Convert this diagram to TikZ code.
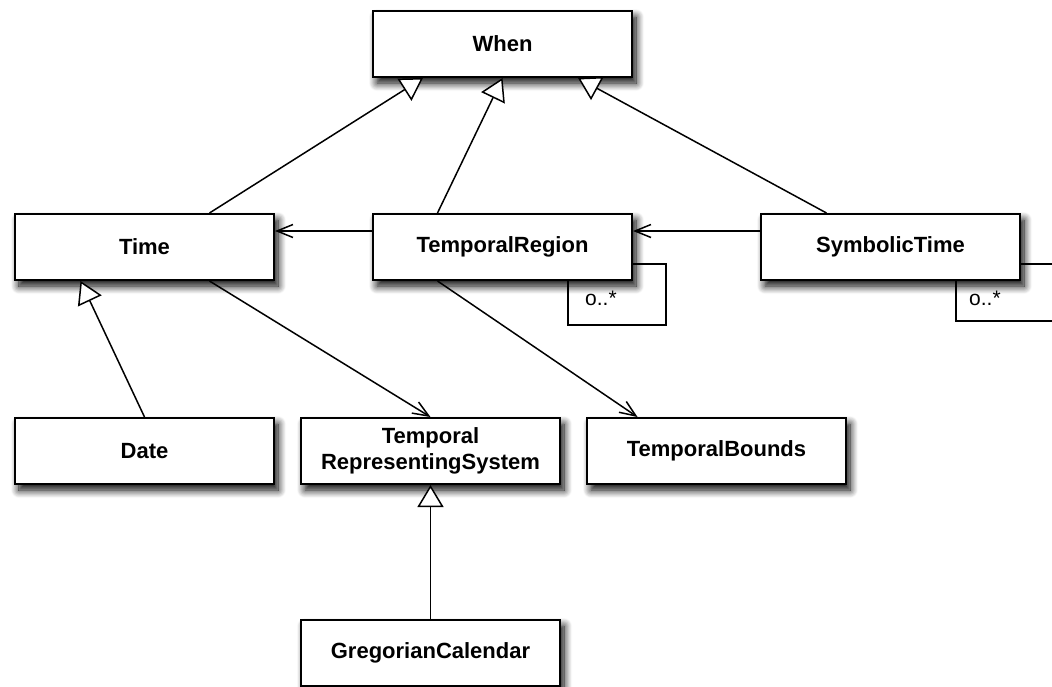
\documentclass[tikz,border=0pt]{standalone}
\usepackage{fontspec}
\setmainfont{Liberation Sans}
\usetikzlibrary{positioning, arrows.meta, shadows.blur}
\tikzset{
    x=1pt, y=-1pt, % One unit is one pixel, y grows downwards
    class/.style={ % Sets the properties for each class box
        draw, line width=2pt, fill=white,
        minimum width=259pt, minimum height=66pt,
        align=center, font=\bfseries\fontsize{22}{26}\selectfont,
        blur shadow={shadow xshift=4pt, shadow yshift=-6pt,
            shadow blur radius=8pt, shadow blur steps=10, shadow opacity=100}
    },
    mult/.style={ % Multiplicity label on a loop
        inner sep=0pt, font=\fontsize{21}{24}\selectfont
    },
    every edge/.style={ % Sets the properties for each connector
        draw, line width=1.5pt
    },
    isa/.style={-{Triangle[length=22pt,width=26pt,fill=white,line width=1.5pt]}}, % generalisation
    uses/.style={-{Straight Barb[length=16pt,width=13pt,line width=1.5pt]}}, % association
}

\begin{document}
\begin{tikzpicture}
    \useasboundingbox (0,0) rectangle (1052,686);
    \clip (0,0) rectangle (1052,686);

    \node[class]                        (when)      at (502.5,44) {When};
    \node[class, below=135pt of when]   (tregion)   {TemporalRegion};
    \node[class, left=97pt of tregion]  (time)      {Time};
    \node[class, right=127pt of tregion](symtime)   {SymbolicTime};
    \node[class, below=136pt of time]   (date)      {Date};
    \node[class, right=25pt of date]    (trs)       {Temporal\\RepresentingSystem};
    \node[class, right=25pt of trs]     (tbounds)   {TemporalBounds};
    \node[class, below=134pt of trs]    (greg)      {GregorianCalendar};

    \draw   ([xshift=65pt]time.north)       edge[isa]   ([xshift=-79.5pt]when.south)
            ([xshift=-65pt]tregion.north)   edge[isa]   (when.south)
            ([xshift=-64pt]symtime.north)   edge[isa]   ([xshift=75.5pt]when.south)
            (date.north)                    edge[isa]   ([xshift=-64pt]time.south)
            (greg.north)                    edge[isa]   (trs.south)
            ([yshift=16pt]tregion.west)     edge[uses]  ([yshift=16pt]time.east)
            ([yshift=16pt]symtime.west)     edge[uses]  ([yshift=16pt]tregion.east)
            ([xshift=65pt]time.south)       edge[uses]  (trs.north)
            ([xshift=-65pt]tregion.south)   edge[uses]  ([xshift=-79pt]tbounds.north)
    ;

    % self associations
    \draw[line width=1.5pt] ([yshift=-17pt]tregion.east) -| ++(33,61) -| ([xshift=65.5pt]tregion.south);
    \draw[line width=1.5pt] ([yshift=-17pt]symtime.east) -| ++(60,57) -| ([xshift=65.5pt]symtime.south);
    \node[mult, anchor=base west] (trmult) at (585,305) {o..*};
    \node[mult, anchor=base west] (stmult) at (969,305) {o..*};
\end{tikzpicture}
\end{document}
